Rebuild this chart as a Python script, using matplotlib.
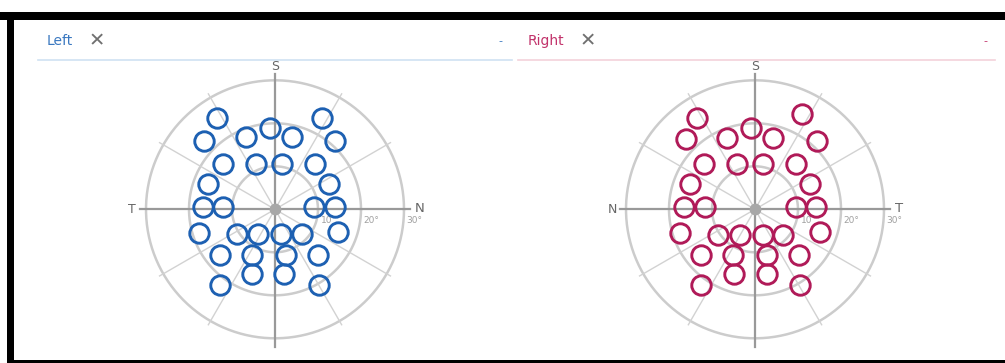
import numpy as np
import matplotlib
matplotlib.use("Agg")
import matplotlib.pyplot as plt

# stimulus positions in degrees (x to the right of fixation, y up)
left_x = [-13.6, 10.9, -1.2, -16.4, -6.7, 4.0, 14.0, -12.0, -4.4, 1.6, 9.3,
          -15.5, 12.6, -16.8, -12.0, 9.1, 14.0, -17.7, -8.9, -4.0, 1.4, 6.2, 14.7,
          -12.8, -5.3, 2.5, 10.0, -5.3, 2.2, -12.8, 10.2]
left_y = [21.2, 21.2, 19.0, 16.0, 16.7, 16.7, 16.0, 10.5, 10.5, 10.5, 10.5,
          5.8, 5.8, 0.6, 0.6, 0.6, 0.6, -5.4, -5.8, -5.8, -5.8, -5.8, -5.2,
          -10.6, -10.6, -10.6, -10.6, -15.0, -15.0, -17.6, -17.6]

right_x = [-13.4, 10.9, -1.0, -16.1, -6.4, 4.3, 14.4, -11.8, -4.1, 1.8, 9.5,
           -15.1, 12.8, -16.4, -11.6, 9.5, 14.2, -17.4, -8.5, -3.6, 1.8, 6.4, 15.1,
           -12.6, -5.1, 2.8, 10.3, -4.9, 2.7, -12.6, 10.5]
right_y = [21.2, 22.1, 19.0, 16.3, 16.5, 16.5, 16.0, 10.5, 10.5, 10.5, 10.5,
           5.8, 5.8, 0.6, 0.6, 0.6, 0.6, -5.6, -6.0, -6.0, -6.0, -6.0, -5.3,
           -10.6, -10.6, -10.6, -10.6, -15.0, -15.0, -17.6, -17.6]

rings = [10, 20, 30]
ring_labels = ["10", "20°", "30°"]

W, H = 1005, 363
px_per_deg = 4.3
half = 150  # half size of each polar axes in pixels

fig = plt.figure(figsize=(W / 100, H / 100), dpi=100)
fig.patch.set_facecolor("white")


def fx(px):
    return px / W


def fy(py):
    return 1 - py / H


def field(cx, cy, xs, ys, color, left_lab, right_lab):
    ax = fig.add_axes([fx(cx - half), fy(cy + half), 2 * half / W, 2 * half / H])
    lim = half / px_per_deg
    ax.set_xlim(-lim, lim)
    ax.set_ylim(-lim, lim)
    ax.axis("off")

    t = np.linspace(0, 2 * np.pi, 400)
    for r in rings:
        ax.plot(r * np.cos(t), r * np.sin(t), color="#cccccc", lw=1.8, zorder=1)
    for a in [30, 60, 120, 150, 210, 240, 300, 330]:
        a = np.radians(a)
        ax.plot([0, 31 * np.cos(a)], [0, 31 * np.sin(a)], color="#d2d2d2", lw=1.0, zorder=1)
    ax.plot([-31.5, 31.5], [0, 0], color="#999999", lw=1.6, zorder=2)
    ax.plot([0, 0], [-32, 31.5], color="#999999", lw=1.6, zorder=2)
    ax.plot(0, 0, "o", ms=7.5, color="#a8a8a8", zorder=3)

    ax.text(0, 33.2, "S", ha="center", va="center", fontsize=9, color="#666666")
    ax.text(-33.2, 0, left_lab, ha="center", va="center", fontsize=9, color="#666666")
    ax.text(33.6, 0.3, right_lab, ha="center", va="center", fontsize=9.5, color="#666666")
    for r, lab in zip(rings, ring_labels):
        ax.text(r + 0.6, -2.6, lab, ha="left", va="center", fontsize=6.5, color="#a0a0a0")

    ax.plot(xs, ys, "o", ms=14, mfc="none", mec=color, mew=2.1, zorder=4)
    return ax


field(275, 209.3, left_x, left_y, "#1d60b2", "T", "N")
field(755, 209.3, right_x, right_y, "#b01a58", "N", "T")

# headers
fig.text(fx(47), fy(41), "Left", fontsize=10, color="#3a78c0", va="center", ha="left")
fig.text(fx(97), fy(41), "✕", fontsize=14, color="#707070", va="center", ha="center")
fig.text(fx(500), fy(41), "-", fontsize=8, color="#3a78c0", va="center", ha="center")
fig.add_artist(plt.Line2D([fx(38), fx(512)], [fy(60), fy(60)], color="#cfe2f2", lw=1.2))

fig.text(fx(528), fy(41), "Right", fontsize=10, color="#c2336b", va="center", ha="left")
fig.text(fx(588), fy(41), "✕", fontsize=14, color="#707070", va="center", ha="center")
fig.text(fx(985), fy(41), "-", fontsize=8, color="#c2336b", va="center", ha="center")
fig.add_artist(plt.Line2D([fx(518), fx(995)], [fy(60), fy(60)], color="#f3d2da", lw=1.2))

# dark frame
fig.add_artist(plt.Rectangle((0, fy(20)), 1, 8 / H, color="black", lw=0))
fig.add_artist(plt.Rectangle((fx(7), 0), 7 / W, fy(12), color="black", lw=0))
fig.add_artist(plt.Rectangle((fx(7), 0), 1, 3 / H, color="black", lw=0))

fig.savefig("out.png", dpi=100)
